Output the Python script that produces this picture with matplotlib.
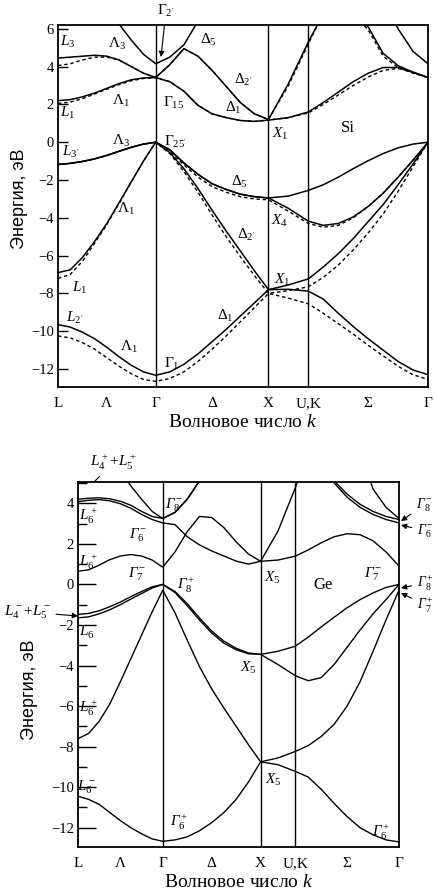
import numpy as np
import matplotlib.pyplot as plt

plt.rcParams['font.family'] = ['Liberation Serif', 'DejaVu Serif']
plt.rcParams['mathtext.fontset'] = 'custom'
plt.rcParams['mathtext.rm'] = 'Liberation Serif'
plt.rcParams['mathtext.it'] = 'Liberation Serif:italic'
plt.rcParams['mathtext.bf'] = 'Liberation Serif:bold'
plt.rcParams['mathtext.cal'] = 'Liberation Serif:italic'  # used for the slanted Γ of Ge

W, H = 434, 891

# path L - Γ - X - U,K - Γ, segment lengths in units of 2π/a
seg_len = [np.sqrt(3) / 2, 1.0, np.sqrt(2) / 4, 3 * np.sqrt(2) / 4]
seg_n = [9, 9, 3, 9]
path_labels = ['L', 'Λ', 'Γ', 'Δ', 'X', 'U,K', 'Σ', 'Γ']

# band energies (eV), read along the path: LΓ (9) | ΓX (8) | XU (2) | KΓ (8)
si_v1 = [-9.65, -9.78, -10.05, -10.4, -10.85, -11.35, -11.8, -12.15, -12.33,
         -12.15, -11.75, -11.2, -10.55, -9.9, -9.2, -8.5, -7.8,
         -7.78, -7.88,
         -8.3, -9.05, -9.75, -10.4, -11.0, -11.6, -12.05, -12.3]
si_v2 = [-6.9, -6.75, -6.1, -5.25, -4.3, -3.2, -2.1, -1.0, 0.0,
         -0.55, -1.4, -2.45, -3.6, -4.7, -5.75, -6.8, -7.8,
         -7.55, -7.23,
         -6.6, -5.9, -5.1, -4.2, -3.3, -2.25, -1.15, 0.0]
si_v3 = [-1.18, -1.12, -1.02, -0.88, -0.7, -0.48, -0.27, -0.1, 0.0,
         -0.4, -1.1, -1.7, -2.2, -2.5, -2.75, -2.88, -2.95,
         -3.5, -4.18,
         -4.4, -4.3, -3.95, -3.4, -2.7, -1.85, -0.95, 0.0]
si_v4 = [-1.18, -1.12, -1.02, -0.88, -0.7, -0.48, -0.27, -0.1, 0.0,
         -0.4, -1.1, -1.7, -2.2, -2.5, -2.75, -2.88, -2.95,
         -2.85, -2.55,
         -2.25, -1.85, -1.4, -0.98, -0.6, -0.3, -0.1, 0.0]
si_c1 = [2.2, 2.25, 2.4, 2.6, 2.85, 3.1, 3.3, 3.4, 3.42,
         3.2, 2.7, 1.95, 1.5, 1.3, 1.15, 1.1, 1.17,
         1.3, 1.6,
         2.1, 2.65, 3.2, 3.65, 3.95, 3.95, 3.7, 3.42]
si_c2 = [4.45, 4.5, 4.55, 4.6, 4.55, 4.35, 4.0, 3.65, 3.42,
         4.1, 4.95, 4.55, 3.8, 2.95, 2.1, 1.5, 1.2,
         3.1, 5.3,
         6.8, 7.2, 6.9, 6.1, 4.7, 4.05, 3.7, 3.42]
si_c3 = [9.0, 8.8, 8.3, 7.7, 7.0, 6.25, 5.4, 4.65, 4.15,
         4.5, 5.15, 6.4, 7.5, 8.5, 9.5, 10.5, 11.0,
         11.0, 10.5,
         10.0, 9.5, 9.0, 8.5, 7.5, 6.0, 4.8, 4.15]

# second (dashed) calculation for Si
si_d1 = [-10.25, -10.35, -10.6, -10.95, -11.4, -11.85, -12.25, -12.55, -12.65,
         -12.5, -12.15, -11.6, -10.95, -10.25, -9.5, -8.75, -8.0,
         -8.25, -8.55,
         -9.05, -9.6, -10.15, -10.75, -11.3, -11.85, -12.3, -12.55]
si_d2 = [-7.2, -7.0, -6.3, -5.35, -4.35, -3.25, -2.1, -1.0, 0.0,
         -0.6, -1.55, -2.65, -3.85, -5.0, -6.05, -7.05, -8.0,
         -7.85, -7.65,
         -7.15, -6.5, -5.7, -4.8, -3.8, -2.6, -1.3, 0.0]
si_d3 = [-1.18, -1.12, -1.02, -0.88, -0.7, -0.48, -0.27, -0.1, 0.0,
         -0.5, -1.2, -1.85, -2.35, -2.65, -2.88, -3.0, -3.05,
         -3.65, -4.3,
         -4.5, -4.4, -4.0, -3.4, -2.7, -1.85, -0.95, 0.0]
si_dc1 = [2.05, 2.12, 2.3, 2.55, 2.8, 3.05, 3.25, 3.37, 3.42,
          3.2, 2.7, 1.95, 1.5, 1.3, 1.15, 1.1, 1.17,
          1.3, 1.55,
          2.0, 2.5, 3.0, 3.45, 3.8, 3.9, 3.7, 3.42]
si_dc2 = [4.05, 4.15, 4.35, 4.5, 4.5, 4.35, 4.0, 3.65, 3.42,
          4.1, 4.95, 4.55, 3.8, 2.95, 2.1, 1.5, 1.2,
          3.0, 5.2,
          6.8, 7.2, 6.8, 5.95, 4.55, 3.95, 3.65, 3.42]

ge_v1 = [-10.45, -10.6, -10.85, -11.25, -11.65, -12.0, -12.3, -12.55, -12.67,
         -12.6, -12.45, -12.15, -11.75, -11.25, -10.6, -9.75, -8.75,
         -8.89, -9.22,
         -9.5, -10.1, -10.8, -11.45, -12.0, -12.35, -12.6, -12.7]
ge_v2 = [-7.61, -7.35, -6.75, -5.9, -4.8, -3.65, -2.5, -1.35, -0.29,
         -1.4, -2.75, -4.05, -5.15, -6.1, -7.0, -7.9, -8.75,
         -8.56, -8.24,
         -7.95, -7.5, -6.9, -6.0, -4.8, -3.3, -1.75, -0.29]
ge_v3 = [-1.65, -1.6, -1.45, -1.25, -1.0, -0.72, -0.45, -0.18, 0.0,
         -0.4, -1.05, -1.75, -2.4, -2.9, -3.22, -3.42, -3.45,
         -3.95, -4.5,
         -4.75, -4.6, -3.95, -3.1, -2.25, -1.45, -0.75, 0.0]
ge_v4 = [-1.48, -1.43, -1.3, -1.1, -0.87, -0.6, -0.35, -0.12, 0.0,
         -0.35, -0.95, -1.65, -2.3, -2.8, -3.15, -3.38, -3.45,
         -3.3, -3.05,
         -2.6, -2.1, -1.62, -1.15, -0.75, -0.42, -0.15, 0.0]
ge_c1 = [0.65, 0.72, 0.95, 1.22, 1.4, 1.47, 1.4, 1.2, 0.85,
         1.6, 2.6, 3.35, 3.3, 2.8, 2.1, 1.5, 1.14,
         2.62, 4.75,
         6.5, 7.0, 7.0, 7.0, 7.0, 7.0, 7.0, 7.0]
ge_c2 = [4.08, 4.15, 4.18, 4.12, 3.98, 3.75, 3.45, 3.2, 3.03,
         2.95, 2.35, 1.95, 1.65, 1.4, 1.15, 1.0, 1.14,
         1.2, 1.39,
         1.7, 2.05, 2.35, 2.5, 2.45, 2.15, 1.6, 0.9]
ge_c3 = [4.2, 4.25, 4.27, 4.22, 4.1, 3.9, 3.6, 3.35, 3.25,
         3.55, 4.2, 5.1, 6.0, 7.0, 8.0, 9.0, 10.0,
         10.0, 10.0,
         9.0, 6.5, 5.1, 4.45, 3.95, 3.6, 3.35, 3.2]
ge_c4 = [8.0, 7.5, 7.0, 6.3, 5.6, 4.85, 4.2, 3.6, 3.25,
         3.55, 4.2, 5.1, 6.0, 7.0, 8.0, 9.0, 10.0,
         10.0, 10.0,
         9.0, 6.5, 5.0, 4.3, 3.8, 3.45, 3.2, 3.03]
ge_c5 = [9.0, 9.0, 9.0, 9.0, 9.0, 9.0, 9.0, 9.0, 9.0,
         9.0, 9.0, 9.0, 9.0, 9.0, 9.0, 9.0, 9.0,
         9.0, 9.0,
         9.0, 9.0, 9.0, 8.0, 6.5, 4.7, 3.8, 3.25]

nodes = np.concatenate([[0], np.cumsum(seg_len)])
k = [np.linspace(nodes[0], nodes[1], seg_n[0])]
for i in range(1, 4):
    k.append(np.linspace(nodes[i], nodes[i + 1], seg_n[i])[1:])
k = np.concatenate(k)
tick_pos = [nodes[0], (nodes[0] + nodes[1]) / 2, nodes[1], (nodes[1] + nodes[2]) / 2,
            nodes[2], nodes[3], (nodes[3] + nodes[4]) / 2, nodes[4]]

fig = plt.figure(figsize=(W / 100, H / 100), dpi=100)
fig.patch.set_facecolor('white')
ax1 = fig.add_axes([58 / W, 1 - 387 / H, 370 / W, 362 / H])
ax2 = fig.add_axes([78 / W, 1 - 847 / H, 321 / W, 365 / H])


def style(ax, ylim, major, minor=None, major_len=7, ylab_pos=(-0.1, 0.5)):
    ax.set_xlim(nodes[0], nodes[-1])
    ax.set_ylim(*ylim)
    for x in nodes[1:-1]:
        ax.axvline(x, color='k', lw=1.0)
    ax.set_xticks(tick_pos)
    ax.set_xticklabels(path_labels, fontsize=11)
    ax.tick_params(axis='x', length=0, pad=7)
    ax.set_yticks(major)
    ax.tick_params(axis='y', direction='in', length=major_len, width=1.0, labelsize=10.5, pad=3)
    if minor is not None:
        ax.set_yticks(minor, minor=True)
        ax.tick_params(axis='y', which='minor', direction='in', length=major_len / 2, width=1.0)
    for s in ax.spines.values():
        s.set_linewidth(1.3)
    ax.set_xlabel('Волновое число $k$', fontsize=14, labelpad=3)
    ax.set_ylabel('Энергия, эВ', fontsize=13, family=['Liberation Sans', 'DejaVu Sans'])
    ax.yaxis.set_label_coords(*ylab_pos)


for band in [si_v1, si_v2, si_v3, si_v4, si_c1, si_c2, si_c3]:
    ax1.plot(k, band, color='k', lw=1.1)
for band in [si_d1, si_d2, si_d3, si_dc1, si_dc2]:
    ax1.plot(k, band, color='k', lw=1.0, ls=(0, (2.5, 2)))
style(ax1, (-12.95, 6.2), np.arange(-12, 7, 2), ylab_pos=(-0.082, 0.52))

for band in [ge_v1, ge_v2, ge_v3, ge_v4, ge_c1, ge_c2, ge_c3, ge_c4, ge_c5]:
    ax2.plot(k, band, color='k', lw=1.0)
style(ax2, (-12.95, 5.05), np.arange(-12, 5, 2), np.arange(-11, 6, 2), major_len=13,
      ylab_pos=(-0.125, 0.43))


def label(x, y, s, size=11, ha='center'):
    fig.text(x / W, 1 - y / H, s, ha=ha, va='center', fontsize=size)


def arrow_label(x, y, s, xa, ya, size=11, ha='center'):
    ax1.annotate(s, xy=(xa / W, 1 - ya / H), xytext=(x / W, 1 - y / H),
                 xycoords='figure fraction', textcoords='figure fraction',
                 ha=ha, va='center', fontsize=size, annotation_clip=False,
                 arrowprops=dict(arrowstyle='-|>', color='k', lw=0.8,
                                 mutation_scale=8, shrinkA=2, shrinkB=0))


# Si labels
for x, y, s in [(68, 42, r'$L_3$'), (117, 44, r'$\Lambda_3$'), (208, 40, r'$\Delta_5$'),
                (243, 80, r'$\Delta_{2^\prime}$'), (68, 113, r'$L_1$'), (121, 101, r'$\Lambda_1$'),
                (174, 103, r'$\Gamma_{15}$'), (233, 108, r'$\Delta_1$'), (280, 134, r'$X_1$'),
                (121, 141, r'$\Lambda_3$'), (175, 142, r'$\Gamma_{25^\prime}$'),
                (71, 152, r'$L_{3^\prime}$'), (239, 182, r'$\Delta_5$'), (126, 209, r'$\Lambda_1$'),
                (280, 221, r'$X_4$'), (246, 235, r'$\Delta_{2^\prime}$'), (80, 288, r'$L_1$'),
                (282, 280, r'$X_1$'), (75, 318, r'$L_{2^\prime}$'), (225, 316, r'$\Delta_1$'),
                (129, 347, r'$\Lambda_1$'), (172, 364, r'$\Gamma_1$')]:
    label(x, y, s)
label(348, 128, 'Si', size=12)
arrow_label(166, 11, r'$\Gamma_{2^\prime}$', 161, 57)

# Ge labels (slanted gamma)
G = r'\mathcal{Γ}'
for x, y, s in [(174, 505, G + '_8^-'), (88, 516, 'L_6^+'), (138, 535, G + '_6^-'),
                (88, 562, 'L_6^+'), (137, 574, G + '_7^-'), (186, 585, G + '_8^+'),
                (272, 578, 'X_5'), (373, 574, G + '_7^-'), (88, 632, 'L_6^-'),
                (248, 668, 'X_5'), (88, 708, 'L_6^+'), (86, 787, 'L_6^-'),
                (273, 780, 'X_5'), (179, 822, G + '_6^+'), (381, 832, G + '_6^+')]:
    label(x, y, '$' + s + '$')
label(323, 585, 'Ge', size=12)
arrow_label(113, 462, r'$L_4^+\!+\!L_5^+$', 80, 497)
arrow_label(27, 612, r'$L_4^-\!+\!L_5^-$', 78, 616)
arrow_label(176, 652, '$' + G + '_7^+$', 167, 593)
arrow_label(416, 505, '$' + G + '_8^-$', 401, 521, size=10, ha='left')
arrow_label(417, 531, '$' + G + '_6^-$', 401, 525, size=10, ha='left')
arrow_label(417, 583, '$' + G + '_8^+$', 401, 588, size=10, ha='left')
arrow_label(417, 605, '$' + G + '_7^+$', 401, 593, size=10, ha='left')

fig.savefig('out.png', dpi=100)
